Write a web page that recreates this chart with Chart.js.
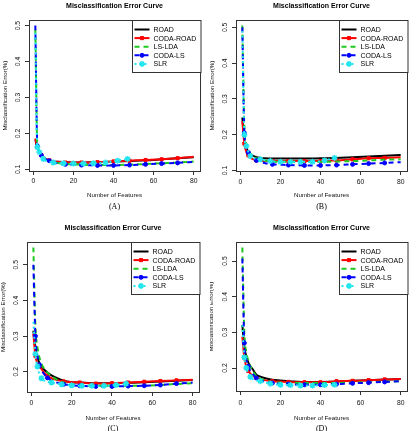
<!DOCTYPE html>
<html>
<head>
<meta charset="utf-8">
<script src="https://cdn.jsdelivr.net/npm/chart.js@4/dist/chart.umd.min.js"></script>
<style>
  html, body { margin: 0; padding: 0; background: #fff; }
  #page { position: relative; width: 420px; height: 431px; overflow: hidden; }
  #page canvas { position: absolute; }
</style>
</head>
<body>
<div id="page">
  <canvas id="panelA" width="210" height="215" style="left:0;top:0"></canvas>
  <canvas id="panelB" width="210" height="215" style="left:210px;top:0"></canvas>
  <canvas id="panelC" width="210" height="216" style="left:0;top:215px"></canvas>
  <canvas id="panelD" width="210" height="216" style="left:210px;top:215px"></canvas>
</div>
<script>
// Misclassification error curves, 4 simulation settings (A)-(D).

const seriesNames = ['ROAD', 'CODA-ROAD', 'LS-LDA', 'CODA-LS', 'SLR'];
const panelCaptions = ['(A)', '(B)', '(C)', '(D)'];

// x positions of the fitted models
const featureCounts = [1, 2, 3, 4, 5, 6, 8, 10, 12, 16, 20, 24, 32, 40, 48, 56, 64, 72, 80];
const slrFeatureCounts = [1, 2, 3, 5, 10, 15, 20, 25, 30, 36, 42, 47];
const markerCounts = [2, 4, 8, 16, 24, 32, 40, 48, 56, 64, 72];

const xTickValues = [0, 20, 40, 60, 80];
const yTickValuesTop = [0.1, 0.2, 0.3, 0.4, 0.5];
const yTickValuesBottom = [0.2, 0.3, 0.4, 0.5];

// (A)
const roadA     = [0.183, 0.160, 0.148, 0.140, 0.134, 0.130, 0.125, 0.122, 0.121, 0.120, 0.119, 0.119, 0.120, 0.121, 0.123, 0.125, 0.128, 0.131, 0.134];
const codaRoadA = [0.186, 0.162, 0.149, 0.140, 0.134, 0.130, 0.125, 0.122, 0.121, 0.119, 0.119, 0.119, 0.120, 0.122, 0.124, 0.126, 0.128, 0.131, 0.135];
const lsLdaA    = [0.490, 0.168, 0.150, 0.140, 0.134, 0.130, 0.124, 0.120, 0.118, 0.115, 0.114, 0.113, 0.112, 0.112, 0.113, 0.115, 0.117, 0.119, 0.122];
const codaLsA   = [0.500, 0.165, 0.148, 0.139, 0.133, 0.129, 0.124, 0.120, 0.117, 0.114, 0.113, 0.112, 0.111, 0.111, 0.112, 0.114, 0.116, 0.118, 0.121];
const slrA      = [0.480, 0.162, 0.148, 0.129, 0.119, 0.117, 0.116, 0.116, 0.117, 0.119, 0.124, 0.129];

// (B)
const roadB     = [0.248, 0.185, 0.163, 0.152, 0.146, 0.142, 0.137, 0.135, 0.134, 0.133, 0.133, 0.133, 0.133, 0.134, 0.135, 0.137, 0.139, 0.141, 0.143];
const codaRoadB = [0.238, 0.175, 0.152, 0.142, 0.136, 0.132, 0.128, 0.127, 0.126, 0.126, 0.126, 0.126, 0.126, 0.126, 0.128, 0.131, 0.134, 0.135, 0.137];
const lsLdaB    = [0.505, 0.225, 0.175, 0.158, 0.148, 0.141, 0.134, 0.130, 0.128, 0.125, 0.124, 0.124, 0.124, 0.124, 0.125, 0.126, 0.128, 0.130, 0.131];
const codaLsB   = [0.500, 0.205, 0.165, 0.150, 0.141, 0.135, 0.128, 0.124, 0.121, 0.117, 0.116, 0.115, 0.114, 0.114, 0.115, 0.117, 0.119, 0.121, 0.123];
const slrB      = [0.490, 0.200, 0.168, 0.140, 0.131, 0.126, 0.124, 0.124, 0.124, 0.124, 0.128, 0.135];

// (C)
const roadC     = [0.315, 0.265, 0.240, 0.225, 0.215, 0.208, 0.198, 0.190, 0.184, 0.175, 0.171, 0.170, 0.168, 0.168, 0.169, 0.171, 0.173, 0.175, 0.177];
const codaRoadC = [0.306, 0.245, 0.225, 0.215, 0.208, 0.200, 0.189, 0.182, 0.178, 0.173, 0.171, 0.170, 0.167, 0.168, 0.170, 0.172, 0.174, 0.176, 0.178];
const lsLdaC    = [0.548, 0.330, 0.270, 0.240, 0.222, 0.212, 0.198, 0.188, 0.180, 0.170, 0.165, 0.162, 0.161, 0.161, 0.161, 0.161, 0.163, 0.166, 0.168];
const codaLsC   = [0.500, 0.300, 0.245, 0.220, 0.205, 0.196, 0.183, 0.175, 0.171, 0.165, 0.162, 0.161, 0.159, 0.159, 0.160, 0.161, 0.163, 0.167, 0.170];
const slrC      = [0.340, 0.250, 0.215, 0.182, 0.170, 0.165, 0.162, 0.161, 0.161, 0.161, 0.163, 0.167];

// (D)
const roadD     = [0.321, 0.260, 0.232, 0.215, 0.205, 0.198, 0.181, 0.176, 0.172, 0.167, 0.165, 0.163, 0.161, 0.161, 0.162, 0.164, 0.166, 0.168, 0.169];
const codaRoadD = [0.288, 0.228, 0.205, 0.192, 0.184, 0.179, 0.172, 0.168, 0.166, 0.163, 0.162, 0.161, 0.160, 0.160, 0.163, 0.164, 0.166, 0.168, 0.169];
const lsLdaD    = [0.538, 0.300, 0.245, 0.220, 0.205, 0.195, 0.177, 0.170, 0.166, 0.161, 0.159, 0.158, 0.158, 0.158, 0.158, 0.159, 0.160, 0.162, 0.163];
const codaLsD   = [0.507, 0.270, 0.225, 0.205, 0.192, 0.184, 0.172, 0.166, 0.162, 0.158, 0.156, 0.155, 0.153, 0.153, 0.155, 0.157, 0.159, 0.161, 0.163];
const slrD      = [0.320, 0.230, 0.200, 0.175, 0.163, 0.156, 0.153, 0.152, 0.151, 0.151, 0.152, 0.153];

const FONT = '"Liberation Sans", Arial, Helvetica, sans-serif';

// plot-box geometry of each panel, in canvas pixels
const panels = [
    { id: 'panelA', h: 215, box: { left: 29, right: 200, top: 20, bottom: 171 }, titleY: 6, tickLabelY: 181, xTitleY: 195, captionY: 207, yTitleX: 5, yTicks: yTickValuesTop,
      series: [roadA, codaRoadA, lsLdaA, codaLsA, slrA] },
    { id: 'panelB', h: 215, box: { left: 26, right: 197, top: 20, bottom: 171 }, titleY: 6, tickLabelY: 182, xTitleY: 195, captionY: 207, yTitleX: 2, yTicks: yTickValuesTop,
      series: [roadB, codaRoadB, lsLdaB, codaLsB, slrB] },
    { id: 'panelC', h: 216, box: { left: 27, right: 199, top: 27, bottom: 177 }, titleY: 13, tickLabelY: 188, xTitleY: 203, captionY: 214, yTitleX: 3, yTicks: yTickValuesBottom,
      series: [roadC, codaRoadC, lsLdaC, codaLsC, slrC] },
    { id: 'panelD', h: 216, box: { left: 26, right: 197, top: 27, bottom: 176 }, titleY: 13, tickLabelY: 188, xTitleY: 203, captionY: 214, yTitleX: 1, yTicks: yTickValuesBottom,
      series: [roadD, codaRoadD, lsLdaD, codaLsD, slrD] }
];

const seriesStyles = [
    { color: '#000000', dash: [], pointStyle: false, radius: 0 },
    { color: '#ff0000', dash: [], pointStyle: 'rect', radius: 2.2 },
    { color: '#1ec81e', dash: [5, 4], pointStyle: false, radius: 0 },
    { color: '#0000ff', dash: [5, 4], pointStyle: 'circle', radius: 2 },
    { color: '#22e6ef', dash: [2, 3], pointStyle: 'star', radius: 3 }
];

// R-like extras: plot box, main title, caption and the boxed legend
const rStylePlugin = {
    id: 'rStyle',
    afterDraw(chart, args, opts) {
        const { ctx, chartArea: a } = chart;
        ctx.save();
        ctx.setLineDash([]);
        ctx.strokeStyle = '#333';
        ctx.lineWidth = 1;
        ctx.strokeRect(Math.round(a.left) + 0.5, Math.round(a.top) + 0.5,
            Math.round(a.right - a.left), Math.round(a.bottom - a.top));

        const cx = (a.left + a.right) / 2;
        ctx.fillStyle = '#000';
        ctx.textAlign = 'center';
        ctx.textBaseline = 'middle';
        ctx.font = 'bold 7px ' + FONT;
        ctx.fillText('Misclassification Error Curve', cx, opts.titleY);
        ctx.font = '8px "Liberation Serif", "Times New Roman", serif';
        ctx.fillText(opts.caption, cx, opts.captionY);

        // legend
        const lw = 68.5, lh = 52;
        const lx = Math.round(a.right - lw) + 0.5, ly = Math.round(a.top) + 0.5;
        ctx.fillStyle = '#fff';
        ctx.fillRect(lx, ly, lw, lh);
        ctx.strokeStyle = '#333';
        ctx.lineWidth = 1;
        ctx.strokeRect(lx, ly, lw, lh);
        chart.data.datasets.forEach((ds, i) => {
            const st = seriesStyles[i];
            const y = ly + 9 + i * 8.6;
            ctx.strokeStyle = st.color;
            ctx.lineWidth = 2;
            ctx.setLineDash(st.dash);
            ctx.beginPath();
            ctx.moveTo(lx + 2, y);
            ctx.lineTo(lx + 17, y);
            ctx.stroke();
            ctx.setLineDash([]);
            if (st.pointStyle) {
                ctx.fillStyle = st.color;
                ctx.lineWidth = st.pointStyle === 'star' ? 1.5 : 1;
                Chart.helpers.drawPoint(ctx, { pointStyle: st.pointStyle, radius: st.radius, rotation: 0, borderWidth: ctx.lineWidth }, lx + 9.5, y);
            }
            ctx.fillStyle = '#000';
            ctx.textAlign = 'left';
            ctx.textBaseline = 'middle';
            ctx.font = '7px ' + FONT;
            ctx.fillText(ds.label, lx + 21, y + 0.5);
        });
        ctx.restore();
    }
};

function paddedRange(values, lo, hi) {
    // R default axis range: data range extended by 4% each side
    const pad = (hi - lo) * 0.04;
    return [lo - pad, hi + pad];
}

function buildPanel(panel, index) {
    const W = 210;
    const { box } = panel;
    const all = panel.series.flat();
    const [yMin, yMax] = paddedRange(all, Math.min(...all), Math.max(...all));
    const [xMin, xMax] = paddedRange(featureCounts, featureCounts[0], featureCounts[featureCounts.length - 1]);

    const datasets = panel.series.map((values, i) => {
        const st = seriesStyles[i];
        const xs = i === 4 ? slrFeatureCounts : featureCounts;
        return {
            label: seriesNames[i],
            data: values.map((v, k) => ({ x: xs[k], y: v })),
            borderColor: st.color,
            backgroundColor: st.color,
            borderWidth: 2,
            borderDash: st.dash,
            cubicInterpolationMode: 'monotone',
            pointStyle: st.pointStyle || 'circle',
            pointBorderWidth: st.pointStyle === 'star' ? 1.5 : 1,
            pointRadius: (ctx) => {
                if (!st.pointStyle || !ctx.raw) return 0;
                if (i === 4) return ctx.dataIndex > 0 ? st.radius : 0;
                return markerCounts.includes(ctx.raw.x) ? st.radius : 0;
            },
            order: 5 - i
        };
    });

    const tickFont = { family: FONT, size: 6.8 };
    const titleFont = { family: FONT, size: 6.2 };
    const tickLen = 4;

    return new Chart(document.getElementById(panel.id), {
        type: 'line',
        data: { datasets },
        options: {
            responsive: false,
            animation: false,
            layout: { padding: { left: 0, top: box.top, right: W - box.right, bottom: 0 } },
            plugins: {
                legend: { display: false },
                tooltip: { enabled: false },
                rStyle: { titleY: panel.titleY, captionY: panel.captionY, caption: panelCaptions[index] }
            },
            scales: {
                x: {
                    type: 'linear',
                    min: xMin,
                    max: xMax,
                    afterBuildTicks: (scale) => { scale.ticks = xTickValues.map((v) => ({ value: v })); },
                    afterFit: (scale) => { scale.height = panel.h - box.bottom; },
                    grid: { display: true, drawOnChartArea: false, drawTicks: true, tickLength: tickLen, color: '#333' },
                    border: { display: false },
                    ticks: {
                        autoSkip: false,
                        maxRotation: 0,
                        color: '#111',
                        font: tickFont,
                        padding: panel.tickLabelY - box.bottom - tickLen - 4,
                        callback: (v) => String(v)
                    },
                    title: {
                        display: true,
                        text: 'Number of Features',
                        color: '#111',
                        font: titleFont,
                        padding: { top: 0, bottom: panel.h - panel.xTitleY - 3.7 }
                    }
                },
                y: {
                    type: 'linear',
                    min: yMin,
                    max: yMax,
                    afterBuildTicks: (scale) => { scale.ticks = panel.yTicks.map((v) => ({ value: v })); },
                    afterFit: (scale) => { scale.width = box.left; },
                    grid: { display: true, drawOnChartArea: false, drawTicks: true, tickLength: tickLen, color: '#333' },
                    border: { display: false },
                    ticks: {
                        autoSkip: false,
                        minRotation: 90,
                        maxRotation: 90,
                        crossAlign: 'center',
                        color: '#111',
                        font: tickFont,
                        padding: 2.3,
                        callback: (v) => v.toFixed(1)
                    },
                    title: {
                        display: true,
                        text: 'Misclassification Error(%)',
                        color: '#111',
                        font: titleFont,
                        padding: { top: panel.yTitleX - 3.7, bottom: 0 }
                    }
                }
            }
        },
        plugins: [rStylePlugin]
    });
}

panels.forEach(buildPanel);
</script>
</body>
</html>
